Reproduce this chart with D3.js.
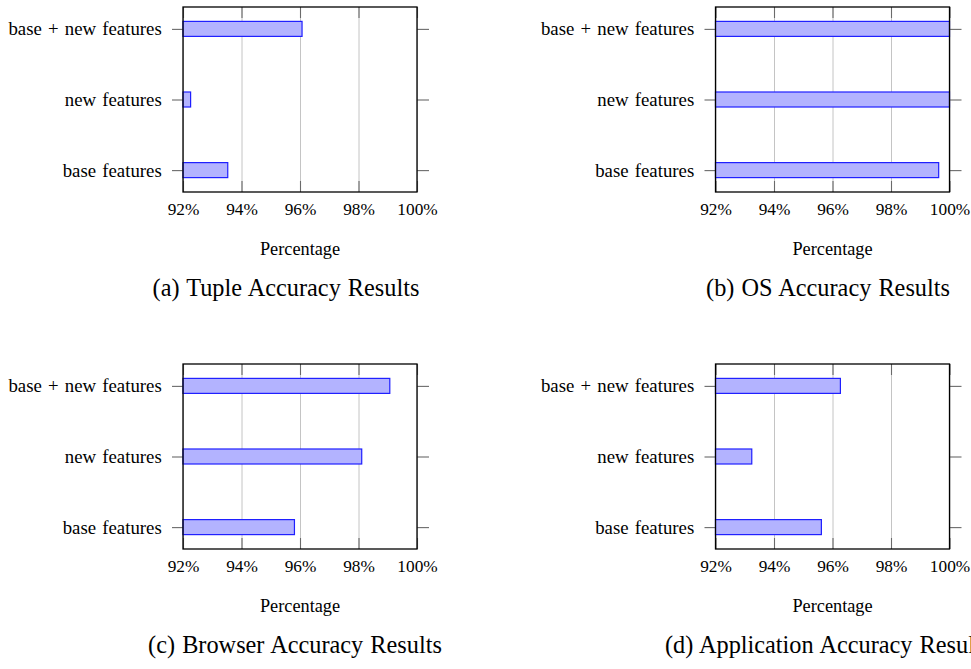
<!DOCTYPE html>
<html>
<head>
<meta charset="utf-8">
<script src="https://cdn.jsdelivr.net/npm/d3@7"></script>
<style>
  html, body { margin: 0; padding: 0; background: #fff; }
  svg { display: block; font-family: "Liberation Serif", "Times New Roman", serif; }
</style>
</head>
<body>
<svg id="chart" width="971" height="669"></svg>
<script>
// Feature sets compared in each panel (bottom to top)
const categories = ["base features", "new features", "base + new features"];
// x-axis ticks (percent)
const xTicks = [92, 94, 96, 98, 100];
const xDomain = [92, 100];

// Accuracy (%) per feature set, same order as categories
const tupleAccuracy       = [93.53, 92.26, 96.07];
const osAccuracy          = [99.63, 100.0, 100.0];
const browserAccuracy     = [95.81, 98.11, 99.07];
const applicationAccuracy = [95.62, 93.24, 96.27];

const captions = [
  "(a) Tuple Accuracy Results",
  "(b) OS Accuracy Results",
  "(c) Browser Accuracy Results",
  "(d) Application Accuracy Results"
];
const axisTitle = "Percentage";

// Panel frames
const panels = [
  { values: tupleAccuracy,       caption: captions[0], left: 183,   top: 7,   capX: 286 },
  { values: osAccuracy,          caption: captions[1], left: 715.5, top: 7,   capX: 828 },
  { values: browserAccuracy,     caption: captions[2], left: 183,   top: 364, capX: 295 },
  { values: applicationAccuracy, caption: captions[3], left: 715.5, top: 364, capX: 828 }
];
const pw = 234, ph = 185;

const svg = d3.select("#chart");

panels.forEach(p => {
  const g = svg.append("g").attr("transform", `translate(${p.left},${p.top})`);

  const x = d3.scaleLinear().domain(xDomain).range([0, pw]);
  const y = d3.scalePoint().domain(categories.slice().reverse()).range([0, ph]).padding(0.31);

  // vertical grid
  g.append("g")
    .attr("transform", `translate(0,${ph})`)
    .call(d3.axisBottom(x).tickValues(xTicks).tickSize(-ph).tickFormat(""))
    .call(s => s.select(".domain").remove())
    .call(s => s.selectAll("line").attr("stroke", "#c4c4c4").attr("stroke-width", 1));

  // bars
  const barH = 15;
  g.selectAll("rect.bar")
    .data(categories.map((c, i) => ({ c, v: p.values[i] })))
    .join("rect")
    .attr("class", "bar")
    .attr("x", x(xDomain[0]))
    .attr("y", d => y(d.c) - barH / 2)
    .attr("width", d => x(d.v) - x(xDomain[0]))
    .attr("height", barH)
    .attr("fill", "#b3b3ff")
    .attr("stroke", "#1f1fff")
    .attr("stroke-width", 1.2);

  // inward x ticks, bottom and top
  g.append("g")
    .attr("transform", `translate(0,${ph})`)
    .call(d3.axisBottom(x).tickValues(xTicks).tickSize(-11).tickFormat(""))
    .call(s => s.select(".domain").remove())
    .call(s => s.selectAll("line").attr("stroke", "#6a6a6a").attr("stroke-width", 1.1));
  g.append("g")
    .call(d3.axisTop(x).tickValues(xTicks).tickSize(-11).tickFormat(""))
    .call(s => s.select(".domain").remove())
    .call(s => s.selectAll("line").attr("stroke", "#6a6a6a").attr("stroke-width", 1.1));

  // x tick labels
  g.append("g")
    .attr("transform", `translate(0,${ph})`)
    .call(d3.axisBottom(x).tickValues(xTicks).tickSize(0).tickPadding(10.5).tickFormat(d => d + "%"))
    .call(s => s.select(".domain").remove())
    .call(s => s.selectAll("text").attr("font-size", "17.3px").attr("fill", "#000")
      .attr("font-family", "Liberation Serif"));

  // y axis: outward ticks on both sides, labels on the left
  g.append("g")
    .call(d3.axisLeft(y).tickSize(11).tickPadding(10.3))
    .call(s => s.select(".domain").remove())
    .call(s => s.selectAll("line").attr("stroke", "#6a6a6a").attr("stroke-width", 1.1))
    .call(s => s.selectAll("text").attr("font-size", "18.8px").attr("fill", "#000")
      .attr("font-family", "Liberation Serif").attr("word-spacing", "1.5px"));
  g.append("g")
    .attr("transform", `translate(${pw},0)`)
    .call(d3.axisRight(y).tickSize(12).tickFormat(""))
    .call(s => s.select(".domain").remove())
    .call(s => s.selectAll("line").attr("stroke", "#6a6a6a").attr("stroke-width", 1.1));

  // frame
  g.append("rect")
    .attr("x", 0).attr("y", 0).attr("width", pw).attr("height", ph)
    .attr("fill", "none").attr("stroke", "#000").attr("stroke-width", 1.3);

  // axis title
  g.append("text")
    .attr("x", pw / 2).attr("y", 248)
    .attr("text-anchor", "middle")
    .attr("font-size", "18.3px")
    .text(axisTitle);

  // sub-caption
  svg.append("text")
    .attr("x", p.capX).attr("y", p.top + 289)
    .attr("text-anchor", "middle")
    .attr("font-size", "24.3px")
    .attr("word-spacing", "1px")
    .text(p.caption);
});
</script>
</body>
</html>
